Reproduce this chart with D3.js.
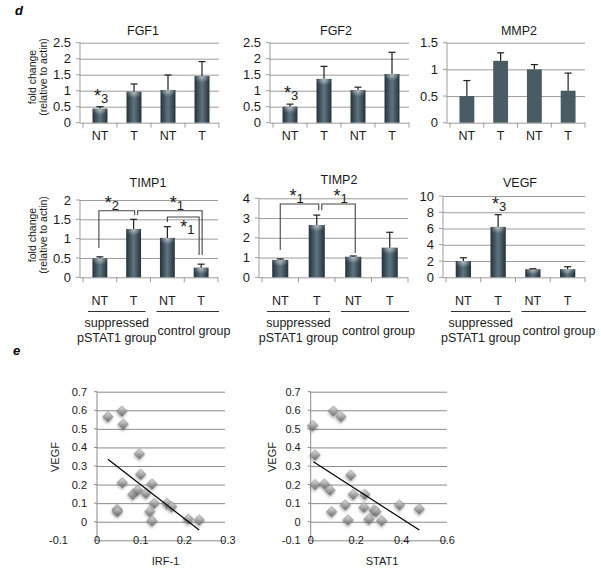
<!DOCTYPE html>
<html><head><meta charset="utf-8">
<script src="https://cdn.jsdelivr.net/npm/d3@7"></script>
<style>
body{margin:0;background:#fff;}
svg{font-family:Arial,"Liberation Sans",sans-serif;}
</style></head><body>
<svg id="c" width="601" height="569"></svg>
<script>
// ---------- DATA ----------
const categories = ["NT","T","NT","T"];
const groupNames = ["suppressed","pSTAT1 group","control group"];
const yAxisTitle = ["fold change","(relative to actin)"];

const fgf1Mean  = [0.44, 0.97, 1.02, 1.46];
const fgf1Err   = [0.06, 0.24, 0.47, 0.45];
const fgf2Mean  = [0.50, 1.37, 1.02, 1.52];
const fgf2Err   = [0.08, 0.39, 0.09, 0.68];
const mmp2Mean  = [0.50, 1.16, 1.00, 0.60];
const mmp2Err   = [0.29, 0.15, 0.09, 0.33];
const timp1Mean = [0.49, 1.25, 1.02, 0.25];
const timp1Err  = [0.04, 0.25, 0.29, 0.09];
const timp2Mean = [0.88, 2.65, 1.04, 1.50];
const timp2Err  = [0.05, 0.50, 0.04, 0.78];
const vegfMean  = [2.0, 6.2, 1.0, 1.0];
const vegfErr   = [0.4, 1.5, 0.05, 0.3];

const fgf1Ticks  = [0, 0.5, 1, 1.5, 2, 2.5];
const fgf2Ticks  = [0, 0.5, 1, 1.5, 2, 2.5];
const mmp2Ticks  = [0, 0.5, 1, 1.5];
const timp1Ticks = [0, 0.5, 1, 1.5, 2];
const timp2Ticks = [0, 1, 2, 3, 4];
const vegfTicks  = [0, 2, 4, 6, 8, 10];

// significance marks: bar index, subscript
const fgf1Notes = [{bar:0, sub:"3"}];
const fgf2Notes = [{bar:0, sub:"3"}];
const vegfNotes = [{bar:1, sub:"3"}];
// brackets (values in data units)
const timp1Brackets = [
  {from:0, to:1, level:1.72, footFrom:0.76, footTo:1.61, sub:"2"},
  {from:1, to:3, level:1.72, footFrom:1.61, footTo:0.58, sub:"1"},
  {from:2, to:3, level:1.56, footFrom:1.43, footTo:0.58, sub:"1", below:true}
];
const timp2Brackets = [
  {from:0, to:1, level:3.71, footFrom:1.38, footTo:3.40, sub:"1"},
  {from:1, to:2, level:3.71, footFrom:3.40, footTo:1.23, sub:"1"}
];

// scatter data
const irf1X = [0.025,0.057,0.060,0.097,0.058,0.100,0.082,0.093,0.112,0.126,0.131,0.121,0.126,0.046,0.047,0.160,0.171,0.209,0.234];
const irf1Y = [0.565,0.595,0.525,0.365,0.210,0.255,0.147,0.170,0.153,0.203,0.099,0.054,0.004,0.066,0.055,0.099,0.081,0.014,0.009];
const irf1Trend = [[0.025,0.336],[0.234,-0.045]];
const stat1X = [0.009,0.100,0.133,0.019,0.019,0.060,0.085,0.176,0.187,0.238,0.152,0.234,0.278,0.287,0.092,0.164,0.256,0.312,0.390,0.477];
const stat1Y = [0.517,0.595,0.565,0.359,0.200,0.203,0.170,0.250,0.147,0.147,0.090,0.077,0.063,0.054,0.054,0.009,0.014,0.005,0.090,0.068];
const stat1Trend = [[0.012,0.323],[0.477,-0.045]];
const scatterYTicks = [-0.1,0,0.1,0.2,0.3,0.4,0.5,0.6,0.7];
const irf1XTicks = [0,0.1,0.2,0.3];
const stat1XTicks = [0,0.2,0.4,0.6];

// ---------- LAYOUT ----------
const svg = d3.select("#c");
const defs = svg.append("defs");
const bg = defs.append("linearGradient").attr("id","barGrad").attr("x1",0).attr("x2",1).attr("y1",0).attr("y2",0);
[[0,"#24313a"],[0.5,"#5f7580"],[1,"#24313a"]].forEach(([o,c])=>bg.append("stop").attr("offset",o).attr("stop-color",c));
const bh = defs.append("radialGradient").attr("id","barHi").attr("cx",0.5).attr("cy",0.1).attr("r",0.55);
bh.append("stop").attr("offset",0).attr("stop-color","#fff").attr("stop-opacity",0.5);
bh.append("stop").attr("offset",1).attr("stop-color","#fff").attr("stop-opacity",0);
const dg = defs.append("linearGradient").attr("id","dia").attr("x1",0).attr("y1",0).attr("x2",1).attr("y2",1);
[[0,"#e6e6e6"],[0.45,"#a8a8a8"],[1,"#5e5e5e"]].forEach(([o,c])=>dg.append("stop").attr("offset",o).attr("stop-color",c));
const fl = defs.append("filter").attr("id","sh").attr("x","-60%").attr("y","-60%").attr("width","220%").attr("height","220%");
fl.append("feDropShadow").attr("dx",1).attr("dy",1.5).attr("stdDeviation",1).attr("flood-color","#000").attr("flood-opacity",0.35);

const fmt = d => String(+(+d).toFixed(2));
const gridC = "#9c9c9c";

function drawBars(title, means, errs, ticks, L, notes, brackets, nudges) {
  const axX = L.x0 - 3;
  const x = d3.scaleBand().domain(d3.range(categories.length)).range([L.x0, L.x1])
      .paddingInner(0.56).paddingOuter(0.28);
  const y = d3.scaleLinear().domain([0, d3.max(ticks)]).range([L.yBot, L.yTop]);
  const cx = i => x(i) + x.bandwidth()/2;
  const g = svg.append("g");

  const ya = g.append("g").attr("transform",`translate(${axX},0)`)
    .call(d3.axisLeft(y).tickValues(ticks).tickSize(-(L.x1-axX)).tickPadding(9).tickFormat(fmt));
  ya.attr("font-family",null).attr("font-size",13);
  ya.select(".domain").remove();
  ya.selectAll(".tick line").attr("stroke",gridC);
  ya.selectAll(".tick text").attr("fill","#1a1a1a");
  g.selectAll(".otick").data(ticks).join("line")
    .attr("x1",axX-4).attr("x2",axX).attr("y1",d=>y(d)).attr("y2",d=>y(d)).attr("stroke",gridC);
  g.append("line").attr("x1",axX).attr("x2",axX).attr("y1",L.yTop).attr("y2",L.yBot).attr("stroke",gridC);
  const step = x.step();
  g.selectAll(".btick").data(d3.range(categories.length+1)).join("line")
    .attr("x1",i=>L.x0+i*step).attr("x2",i=>L.x0+i*step)
    .attr("y1",y(0)).attr("y2",y(0)+5).attr("stroke",gridC);

  // bars
  g.selectAll(".bar").data(means).join("rect")
    .attr("x",(d,i)=>x(i)).attr("y",d=>y(d)).attr("width",x.bandwidth())
    .attr("height",d=>y(0)-y(d)).attr("fill", L.flat ? "#4a5b63" : "url(#barGrad)");
  if (!L.flat) {
    g.selectAll(".hi").data(means).join("rect")
      .attr("x",(d,i)=>x(i)).attr("y",d=>y(d)).attr("width",x.bandwidth())
      .attr("height",d=>Math.min(10, y(0)-y(d))).attr("fill","url(#barHi)");
  }
  // error bars
  g.selectAll(".eb").data(means).join("line")
    .attr("x1",(d,i)=>cx(i)).attr("x2",(d,i)=>cx(i))
    .attr("y1",d=>y(d)).attr("y2",(d,i)=>y(d+errs[i])).attr("stroke","#1e1e1e").attr("stroke-width",1.2);
  g.selectAll(".ec").data(means).join("line")
    .attr("x1",(d,i)=>cx(i)-3.5).attr("x2",(d,i)=>cx(i)+3.5)
    .attr("y1",(d,i)=>y(d+errs[i])).attr("y2",(d,i)=>y(d+errs[i])).attr("stroke","#1e1e1e").attr("stroke-width",1.2);

  // title
  g.append("text").attr("x",L.tx).attr("y",L.ty).attr("text-anchor","middle")
    .attr("font-size",12.5).attr("fill","#1a1a1a").text(title);
  // category labels
  g.selectAll(".cat").data(categories).join("text")
    .attr("x",(d,i)=>cx(i)).attr("y",L.ly).attr("text-anchor","middle")
    .attr("font-size",12.5).attr("fill","#1a1a1a").text(d=>d);

  function star(sel, xx, yy, sub) {
    const t = sel.append("text").attr("x",xx).attr("y",yy).attr("text-anchor","middle").attr("fill","#1a1a1a");
    t.append("tspan").attr("font-size",18).text("*");
    t.append("tspan").attr("font-size",13).attr("dy",1).text(sub);
  }
  (notes||[]).forEach(n => {
    star(g, cx(n.bar)+1, y(means[n.bar]+errs[n.bar]) - 5, n.sub);
  });
  (brackets||[]).forEach((b,k) => {
    const nd = nudges[k];
    const xa = cx(b.from)+nd[0], xb = cx(b.to)+nd[1];
    g.append("path")
      .attr("d",`M${xa},${y(b.footFrom)}V${y(b.level)}H${xb}V${y(b.footTo)}`)
      .attr("fill","none").attr("stroke","#444").attr("stroke-width",1.1);
    const lx = (xa+xb)/2 + nd[2];
    const ly = b.below ? y(b.level)+16 : y(b.level)-2;
    star(g, lx, ly, b.sub);
  });
  return {x, y, step};
}

function foldLabel(cyy) {
  const g = svg.append("g");
  g.append("text").attr("transform",`translate(36,${cyy}) rotate(-90)`).attr("text-anchor","middle")
    .attr("font-size",10.5).attr("fill","#1a1a1a").text(yAxisTitle[0]);
  g.append("text").attr("transform",`translate(47,${cyy}) rotate(-90)`).attr("text-anchor","middle")
    .attr("font-size",10.5).attr("fill","#1a1a1a").text(yAxisTitle[1]);
}

function groupLabels(L) {
  const step = (L.x1 - L.x0)/categories.length;
  const b = d3.range(categories.length+1).map(i=>L.x0+i*step);
  const g = svg.append("g").attr("fill","#1a1a1a").attr("font-size",12.5);
  const l1a = b[0]+5, l1b = b[2]-5, l2a = b[2]+6, l2b = b[4]+1;
  g.append("line").attr("x1",l1a).attr("x2",l1b).attr("y1",311.5).attr("y2",311.5).attr("stroke","#333");
  g.append("line").attr("x1",l2a).attr("x2",l2b).attr("y1",311.5).attr("y2",311.5).attr("stroke","#333");
  g.append("text").attr("x",(l1a+l1b)/2).attr("y",327).attr("text-anchor","middle").text(groupNames[0]);
  g.append("text").attr("x",(l1a+l1b)/2).attr("y",342).attr("text-anchor","middle").text(groupNames[1]);
  g.append("text").attr("x",l2a+1).attr("y",335).attr("text-anchor","start").text(groupNames[2]);
}

const rowTop = {yTop:42.7, yBot:122.7, ty:35, ly:140};
const rowMid = {yTop:200, yBot:277.3, ty:187, ly:305};
const L_fgf1  = {x0:83,  x1:219, tx:143, ...rowTop};
const L_fgf2  = {x0:273, x1:409, tx:336, ...rowTop};
const L_mmp2  = {x0:450, x1:585, tx:519, flat:true, ...rowTop};
const L_timp1 = {x0:83,  x1:218, tx:148, ...rowMid};
const L_timp2 = {x0:262, x1:408, tx:339, ...rowMid, yTop:198.3, ty:183.5};
const L_vegf  = {x0:446, x1:585, tx:520, ...rowMid, yTop:196};

drawBars("FGF1", fgf1Mean, fgf1Err, fgf1Ticks, L_fgf1, fgf1Notes);
drawBars("FGF2", fgf2Mean, fgf2Err, fgf2Ticks, L_fgf2, fgf2Notes);
drawBars("MMP2", mmp2Mean, mmp2Err, mmp2Ticks, L_mmp2);
drawBars("TIMP1", timp1Mean, timp1Err, timp1Ticks, L_timp1, null, timp1Brackets, [[-1,1,-5],[4,1,7],[0,-2,4]]);
drawBars("TIMP2", timp2Mean, timp2Err, timp2Ticks, L_timp2, null, timp2Brackets, [[0,2,-3],[5,2,2]]);
drawBars("VEGF", vegfMean, vegfErr, vegfTicks, L_vegf, vegfNotes);
foldLabel(77); foldLabel(235);
[L_timp1, L_timp2, L_vegf].forEach(groupLabels);

// panel letters
svg.append("text").attr("x",15).attr("y",15).attr("font-size",13).attr("font-weight","bold").attr("font-style","italic").text("d");
svg.append("text").attr("x",13).attr("y",355).attr("font-size",13).attr("font-weight","bold").attr("font-style","italic").text("e");

// ---------- SCATTER ----------
function drawScatter(xs, ys, trend, xTicks, L, xTitle) {
  const x = d3.scaleLinear().domain([0, d3.max(xTicks)]).range([L.x0, L.x1]);
  const y = d3.scaleLinear().domain([-0.1, 0.7]).range([540.3, 391.7]);
  const g = svg.append("g");
  const ya = g.append("g").attr("transform",`translate(${L.x0},0)`)
    .call(d3.axisLeft(y).tickValues(scatterYTicks).tickSize(-(L.gx - L.x0)).tickPadding(10).tickFormat(fmt));
  ya.attr("font-family",null).attr("font-size",11);
  ya.select(".domain").remove();
  ya.selectAll(".tick line").attr("stroke","#8a8a8a");
  ya.selectAll(".tick text").attr("fill","#1a1a1a").attr("dx",d=> d < 0 ? L.negDx : 0);
  g.selectAll(".ot").data(scatterYTicks).join("line")
    .attr("x1",L.x0-3).attr("x2",L.x0).attr("y1",d=>y(d)).attr("y2",d=>y(d)).attr("stroke","#8a8a8a");
  g.append("line").attr("x1",L.x0).attr("x2",L.x0).attr("y1",y(0.7)).attr("y2",y(-0.1)).attr("stroke","#8a8a8a");
  g.selectAll(".xt").data(xTicks).join("text")
    .attr("x",d=>x(d)).attr("y",y(-0.1)).attr("dy","0.36em").attr("text-anchor","middle")
    .attr("font-size",11).attr("fill","#1a1a1a").text(fmt);
  // markers
  g.selectAll(".pt").data(xs).join("path")
    .attr("d", d3.symbol().type(d3.symbolSquare).size(54))
    .attr("transform",(d,i)=>`translate(${x(d)},${y(ys[i])}) rotate(45)`)
    .attr("fill","url(#dia)").attr("fill-opacity",0.88).attr("stroke","#6a6a6a").attr("stroke-width",0.5)
    .attr("filter","url(#sh)");
  g.append("line").attr("x1",x(trend[0][0])).attr("y1",y(trend[0][1]))
    .attr("x2",x(trend[1][0])).attr("y2",y(trend[1][1])).attr("stroke","#000").attr("stroke-width",1.2);
  g.append("text").attr("transform",`translate(${L.vx},457) rotate(-90)`).attr("text-anchor","middle")
    .attr("font-size",11).attr("fill","#1a1a1a").text("VEGF");
  g.append("text").attr("x",(L.x0+L.x1)/2+3).attr("y",565).attr("text-anchor","middle")
    .attr("font-size",11).attr("fill","#1a1a1a").text(xTitle);
}
drawScatter(irf1X, irf1Y, irf1Trend, irf1XTicks, {x0:97, x1:228, gx:225, negDx:-19, vx:59}, "IRF-1");
drawScatter(stat1X, stat1Y, stat1Trend, stat1XTicks, {x0:310.7, x1:447.3, gx:447, negDx:0, vx:276}, "STAT1");
</script>
</body></html>
